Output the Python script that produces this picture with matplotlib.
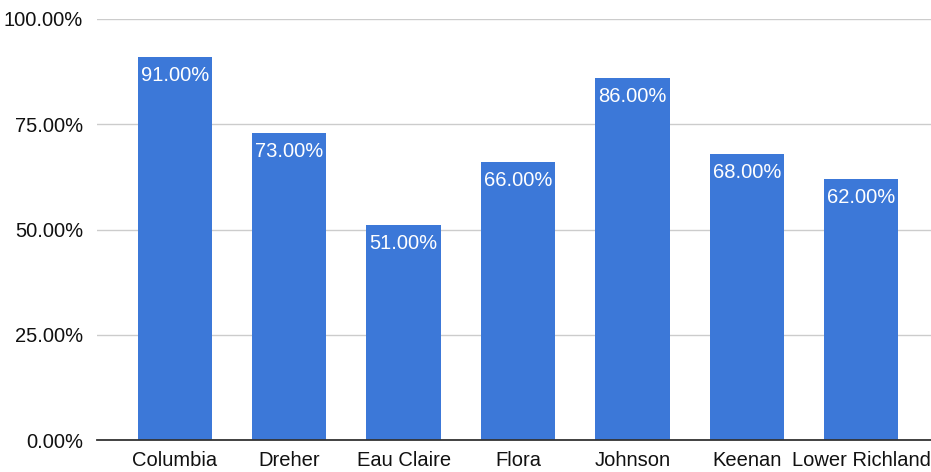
import matplotlib.pyplot as plt
from matplotlib.ticker import FuncFormatter

plt.rcParams['font.family'] = ['Liberation Sans', 'DejaVu Sans']

# data
schools = ["Columbia", "Dreher", "Eau Claire", "Flora", "Johnson", "Keenan", "Lower Richland"]
rates = [91, 73, 51, 66, 86, 68, 62]
y_ticks = [0, 25, 50, 75, 100]

fig = plt.figure(figsize=(9.31, 4.72), dpi=100)
ax = fig.add_axes([97 / 931, 32 / 472, 1 - 97 / 931, (440 - 19) / 472])

x = range(len(schools))
bars = ax.bar(x, rates, width=0.65, color='#3c78d8', zorder=3)

# value labels inside the top of each bar
for b, v in zip(bars, rates):
    ax.annotate(f"{v:.2f}%", (b.get_x() + b.get_width() / 2, v),
                xytext=(0, -6.5), textcoords='offset points',
                ha='center', va='top', color='white', fontsize=14.5, zorder=4)

ax.set_xlim(-0.68, 6.61)
ax.set_ylim(0, 100)
ax.set_yticks(y_ticks)
ax.yaxis.set_major_formatter(FuncFormatter(lambda v, p: f"{v:.2f}%"))
ax.set_xticks(list(x))
ax.set_xticklabels(schools)
ax.tick_params(axis='both', length=0, labelsize=14.5, colors='#111111')
ax.tick_params(axis='y', pad=10)
ax.tick_params(axis='x', pad=8)

ax.grid(axis='y', color='#cccccc', linewidth=1, zorder=0)
for s in ['top', 'right', 'left']:
    ax.spines[s].set_visible(False)
ax.spines['bottom'].set_color('#333333')
ax.spines['bottom'].set_linewidth(1.3)
ax.spines['bottom'].set_zorder(5)

fig.savefig("out.png", dpi=100)
